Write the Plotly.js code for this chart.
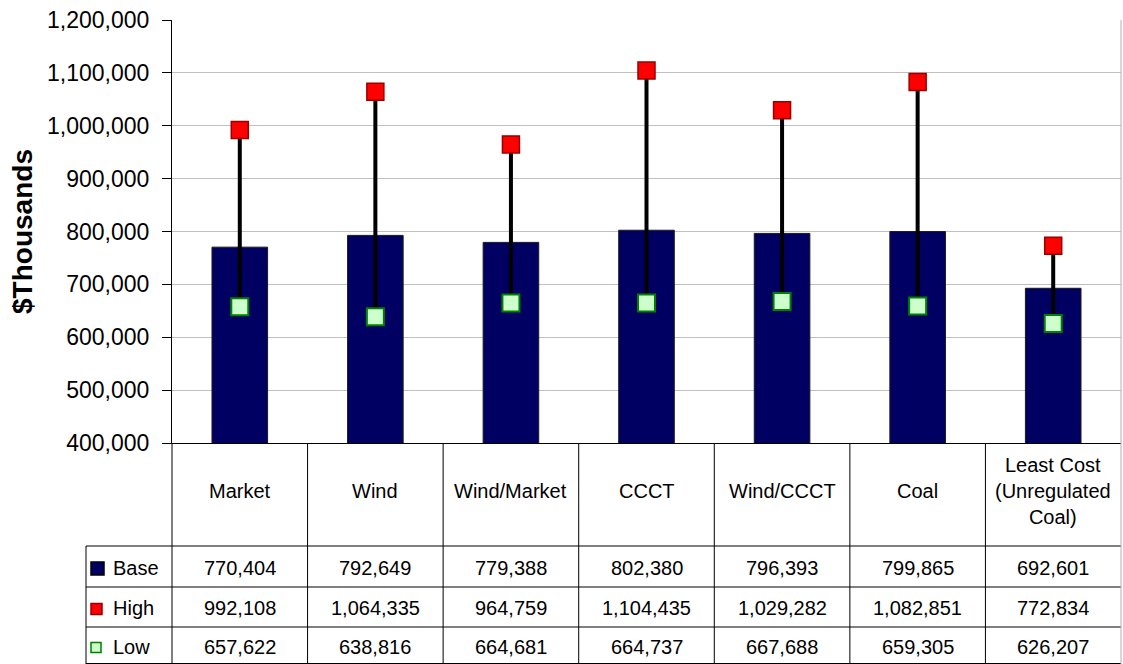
<!DOCTYPE html>
<html>
<head>
<meta charset="utf-8">
<script src="https://cdn.plot.ly/plotly-3.0.1.min.js"></script>
<style>
html,body{margin:0;padding:0;background:#fff;}
#chart{width:1123px;height:664px;}
</style>
</head>
<body>
<div id="chart"></div>
<script>
// ---- data ----
const categories = ["Market", "Wind", "Wind/Market", "CCCT", "Wind/CCCT", "Coal", "Least Cost (Unregulated Coal)"];
const categoryLabels = ["Market", "Wind", "Wind/Market", "CCCT", "Wind/CCCT", "Coal", "Least Cost<br>(Unregulated<br>Coal)"];
const baseValues = [770404, 792649, 779388, 802380, 796393, 799865, 692601];
const highValues = [992108, 1064335, 964759, 1104435, 1029282, 1082851, 772834];
const lowValues  = [657622, 638816, 664681, 664737, 667688, 659305, 626207];
const seriesNames = ["Base", "High", "Low"];
const yTickValues = [400000, 500000, 600000, 700000, 800000, 900000, 1000000, 1100000, 1200000];

// ---- styles ----
const FONT = "Liberation Sans, Arial, sans-serif";
const navy = "#000062";
const red = "#ff0000", redEdge = "#990000";
const green = "#ccffcc", greenEdge = "#008000";

// pixel helpers (plot area: x 172..1121, y 20..443)
const L = 172, R = 2, T = 20, B = 221, W = 1123, H = 664;
const pw = W - L - R, ph = H - T - B;
const px = X => (X - L) / pw;
const py = Y => (H - B - Y) / ph;

// high-low connector lines built from data
const hlX = [], hlY = [];
categories.forEach((c, i) => { hlX.push(c, c, null); hlY.push(lowValues[i], highValues[i], null); });

const traces = [
  {type: "bar", name: "Base", x: categories, y: baseValues, width: 0.41,
   marker: {color: navy, line: {color: "#1a1a1a", width: 1}}, hoverinfo: "y"},
  {type: "scatter", mode: "lines", x: hlX, y: hlY, line: {color: "#000", width: 4},
   hoverinfo: "skip", showlegend: false},
  {type: "scatter", mode: "markers", name: "High", x: categories, y: highValues,
   marker: {symbol: "square", size: 17, color: red, line: {color: redEdge, width: 1.5}}},
  {type: "scatter", mode: "markers", name: "Low", x: categories, y: lowValues,
   marker: {symbol: "square", size: 17, color: green, line: {color: greenEdge, width: 2}}}
];

// ---- table below the plot ----
const rowTop = [443, 546, 587, 627, 664];
const annotations = [];
const shapes = [];
const fmt = v => v.toLocaleString("en-US");

categories.forEach((c, i) => {
  annotations.push({xref: "x", yref: "paper", x: c, y: py(491), text: categoryLabels[i],
    showarrow: false, xanchor: "center", yanchor: "middle", font: {family: FONT, size: 20, color: "#000"}});
});
const rows = [baseValues, highValues, lowValues];
rows.forEach((vals, r) => {
  const yc = (rowTop[r + 1] + rowTop[r + 2]) / 2 + 1;
  vals.forEach((v, i) => {
    annotations.push({xref: "x", yref: "paper", x: categories[i], y: py(yc), text: fmt(v),
      showarrow: false, xanchor: "center", yanchor: "middle", font: {family: FONT, size: 20, color: "#000"}});
  });
  annotations.push({xref: "paper", yref: "paper", x: px(111), y: py(yc), text: seriesNames[r],
    showarrow: false, xanchor: "left", yanchor: "middle", font: {family: FONT, size: 20, color: "#000"}});
});

// legend keys
const keyStyles = [
  {fill: navy, line: "#000000", s: 13},
  {fill: red, line: redEdge, s: 11},
  {fill: green, line: greenEdge, s: 10}
];
keyStyles.forEach((k, r) => {
  const yc = (rowTop[r + 1] + rowTop[r + 2]) / 2 + 2;
  shapes.push({type: "rect", xref: "paper", yref: "paper",
    x0: px(91), x1: px(91 + k.s), y0: py(yc - k.s / 2), y1: py(yc + k.s / 2),
    fillcolor: k.fill, line: {color: k.line, width: 1.5}});
});

const lineStyle = {color: "#000", width: 1};
// horizontal table lines
shapes.push({type: "line", xref: "paper", yref: "paper", x0: px(86), x1: 1, y0: py(546), y1: py(546), line: lineStyle});
shapes.push({type: "line", xref: "paper", yref: "paper", x0: px(86), x1: 1, y0: py(587), y1: py(587), line: lineStyle});
shapes.push({type: "line", xref: "paper", yref: "paper", x0: px(86), x1: 1, y0: py(627), y1: py(627), line: lineStyle});
shapes.push({type: "line", xref: "paper", yref: "paper", x0: px(86), x1: 1, y0: py(663.5), y1: py(663.5), line: lineStyle});
// vertical table lines
shapes.push({type: "line", xref: "paper", yref: "paper", x0: px(86), x1: px(86), y0: py(546), y1: py(664), line: lineStyle});
shapes.push({type: "line", xref: "paper", yref: "paper", x0: 0, x1: 0, y0: 0, y1: py(664), line: lineStyle});
for (let i = 0; i < categories.length - 1; i++) {
  shapes.push({type: "line", xref: "x", yref: "paper", x0: i + 0.5, x1: i + 0.5, y0: 0, y1: py(664), line: lineStyle});
}
// right border
shapes.push({type: "line", xref: "paper", yref: "paper", x0: 1, x1: 1, y0: 1, y1: py(664), line: {color: "#b0b0b0", width: 1}});

const layout = {
  width: W, height: H,
  margin: {l: L, r: R, t: T, b: B, pad: 0},
  paper_bgcolor: "#fff", plot_bgcolor: "#fff",
  showlegend: false,
  font: {family: FONT, color: "#000"},
  xaxis: {type: "category", range: [-0.5, 6.5], showticklabels: false, ticks: "",
          showgrid: false, showline: true, linecolor: "#000", linewidth: 1, zeroline: false, fixedrange: true},
  yaxis: {range: [400000, 1200000], tickvals: yTickValues, tickformat: ",d",
          ticks: "outside", ticklen: 9, tickcolor: "#000", tickwidth: 1, ticklabelstandoff: 8,
          showline: true, linecolor: "#000", linewidth: 1,
          showgrid: true, gridcolor: "#c0c0c0", gridwidth: 1, zeroline: false,
          tickfont: {family: FONT, size: 23, color: "#000"},
          title: {text: "<b>$Thousands</b>", font: {family: FONT, size: 28, color: "#000"}, standoff: 6},
          fixedrange: true},
  shapes: shapes,
  annotations: annotations
};

Plotly.newPlot("chart", traces, layout, {displayModeBar: false, staticPlot: false});
</script>
</body>
</html>
